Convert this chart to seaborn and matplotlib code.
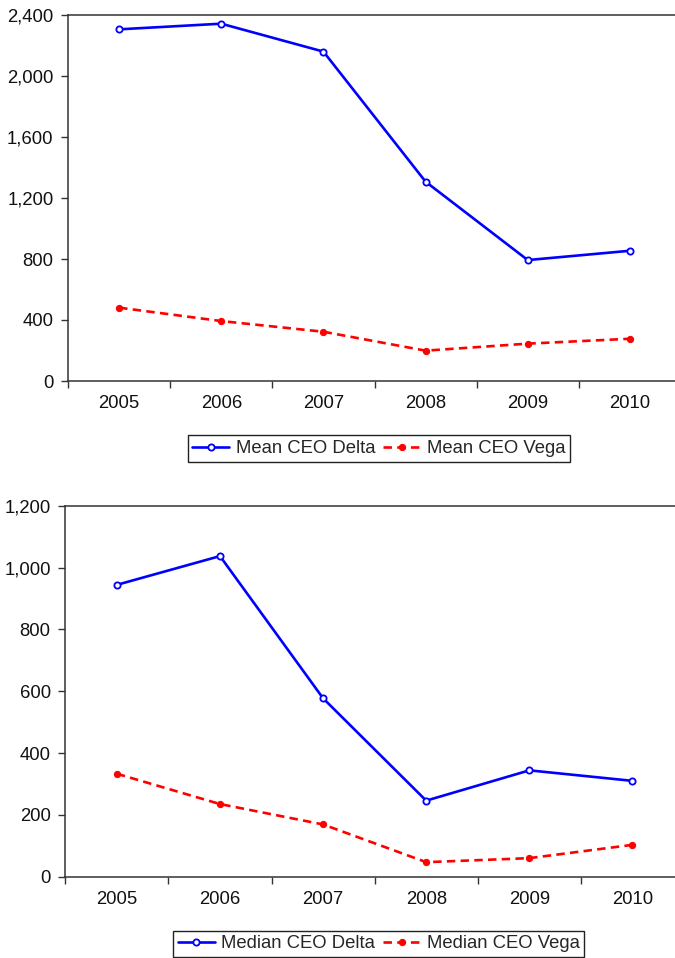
import matplotlib
matplotlib.use("Agg")
import matplotlib.pyplot as plt
import matplotlib.ticker as mticker
import seaborn as sns
import pandas as pd

years = [2005, 2006, 2007, 2008, 2009, 2010]
mean_delta = [2306, 2343, 2160, 1307, 793, 854]
mean_vega = [481, 393, 323, 199, 245, 277]
median_delta = [944, 1037, 577, 246, 344, 310]
median_vega = [333, 235, 169, 47, 60, 103]

top_yticks = [0, 400, 800, 1200, 1600, 2000, 2400]
bottom_yticks = [0, 200, 400, 600, 800, 1000, 1200]

sns.set_theme(style="white")
plt.rcParams['font.family'] = ['Liberation Sans', 'DejaVu Sans']
plt.rcParams['font.size'] = 13.3

fig = plt.figure(figsize=(6.75, 9.58), dpi=100)
ax1 = fig.add_axes([68/675, (958-381)/958, 613/675, 366/958])
ax2 = fig.add_axes([65.3/675, (958-876.7)/958, 618.7/675, 371/958])

def draw(ax, delta, vega, dlabel, vlabel, yticks):
    df = pd.DataFrame({"year": years, "delta": delta, "vega": vega})
    sns.lineplot(data=df, x="year", y="delta", ax=ax, color="#0000ff", lw=1.9,
                 marker="o", markersize=4.5, markerfacecolor="white",
                 markeredgecolor="#0000ff", markeredgewidth=1.3, label=dlabel)
    sns.lineplot(data=df, x="year", y="vega", ax=ax, color="#ff0000", lw=1.9,
                 linestyle=(0, (3.2, 2.0)), marker="o", markersize=4.5,
                 markerfacecolor="#ff0000", markeredgecolor="#ff0000", label=vlabel)
    ax.set_xlim(years[0] - 0.5, years[-1] + 0.5)
    ax.set_ylim(yticks[0], yticks[-1])
    ax.set_yticks(yticks)
    ax.yaxis.set_major_formatter(mticker.FuncFormatter(lambda v, p: f"{v:,.0f}"))
    ax.set_xticks(years)
    ax.set_xticklabels([str(y) for y in years])
    ax.set_xticks([y - 0.5 for y in years] + [years[-1] + 0.5], minor=True)
    ax.tick_params(axis="x", which="major", length=0, pad=10, labelsize=13.3, colors="#111111")
    ax.tick_params(axis="x", which="minor", length=5, width=1, direction="out", color="#333333", bottom=True)
    ax.tick_params(axis="y", which="major", length=5, width=1, direction="out", pad=5.5,
                   labelsize=13.3, colors="#111111", left=True)
    ax.tick_params(axis="y", colors="#333333", labelcolor="#111111")
    ax.set_xlabel("")
    ax.set_ylabel("")
    for s in ax.spines.values():
        s.set_color("#333333")
        s.set_linewidth(1.1)
        s.set_visible(True)
    ax.get_legend().remove()
    return ax.get_legend_handles_labels()

h1, l1 = draw(ax1, mean_delta, mean_vega, "Mean CEO Delta", "Mean CEO Vega", top_yticks)
h2, l2 = draw(ax2, median_delta, median_vega, "Median CEO Delta", "Median CEO Vega", bottom_yticks)

for h, l, y in [(h1, l1, (958-448.5)/958), (h2, l2, (958-944)/958)]:
    leg = fig.legend(h, l, loc="center", bbox_to_anchor=(378.8/675, y), ncol=2,
                     frameon=True, fancybox=False, framealpha=1, edgecolor="#222222",
                     borderpad=0.25, handlelength=2.0, handletextpad=0.35,
                     columnspacing=0.45, borderaxespad=0, fontsize=13.3)
    leg.get_frame().set_linewidth(1.0)

fig.savefig("out.png", dpi=100)
